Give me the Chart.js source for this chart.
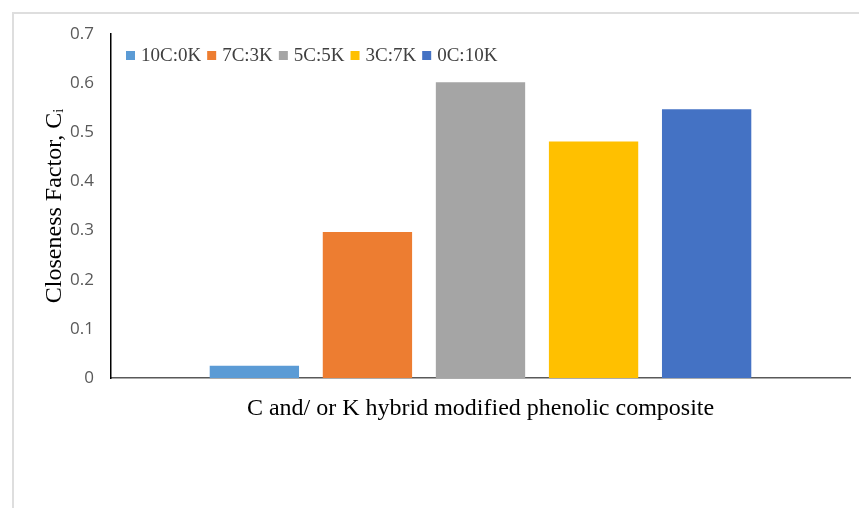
<!DOCTYPE html>
<html>
<head>
<meta charset="utf-8">
<script src="https://cdn.jsdelivr.net/npm/chart.js@4/dist/chart.umd.min.js"></script>
<style>
  body { margin: 0; background: #fff; }
  #wrap { position: relative; width: 859px; height: 508px; }
  #frame { position: absolute; left: 12px; top: 12px; right: 0; bottom: 0;
           border-top: 2px solid #dedede; border-left: 2px solid #dedede; }
  canvas { position: absolute; left: 0; top: 0; }
</style>
</head>
<body>
<div id="wrap">
  <div id="frame"></div>
  <canvas id="chart" width="859" height="508"></canvas>
</div>
<script>
const categories = [''];
const seriesNames = ['10C:0K', '7C:3K', '5C:5K', '3C:7K', '0C:10K'];
const seriesValues = [0.025, 0.297, 0.602, 0.481, 0.547];
const seriesColors = ['#5B9BD5', '#ED7D31', '#A5A5A5', '#FFC000', '#4472C4'];
const yTicks = [0, 0.1, 0.2, 0.3, 0.4, 0.5, 0.6, 0.7];

const datasets = seriesNames.map((name, i) => ({
  label: name,
  data: [seriesValues[i]],
  backgroundColor: seriesColors[i],
  borderWidth: 0,
  categoryPercentage: 0.765,
  barPercentage: 0.79
}));

// legend drawn inside the plot, one row from the top-left corner
const insideLegend = {
  id: 'insideLegend',
  afterDraw(chart) {
    const ctx = chart.ctx;
    const area = chart.chartArea;
    let x = area.left + 15;
    const cy = area.top + 21.5;
    ctx.save();
    ctx.font = '19px "Liberation Serif"';
    ctx.textBaseline = 'middle';
    chart.data.datasets.forEach(ds => {
      ctx.fillStyle = ds.backgroundColor;
      ctx.fillRect(x, cy - 4.5, 9, 9);
      ctx.fillStyle = '#404040';
      ctx.fillText(ds.label, x + 15, cy + 1);
      x += 15 + ctx.measureText(ds.label).width + 6;
    });
    ctx.restore();
  }
};

new Chart(document.getElementById('chart').getContext('2d'), {
  type: 'bar',
  data: { labels: categories, datasets: datasets },
  plugins: [insideLegend],
  options: {
    responsive: false,
    animation: false,
    layout: { padding: { left: 40, top: 34, right: 9, bottom: 85 } },
    plugins: {
      tooltip: { enabled: false },
      legend: { display: false }
    },
    scales: {
      x: {
        grid: { display: false, drawTicks: false },
        border: { color: '#595959', width: 1.5 },
        ticks: { display: false },
        afterFit: axis => { axis.height = 45; },
        title: {
          display: true,
          text: 'C and/ or K hybrid modified phenolic composite',
          color: '#000',
          font: { family: 'Liberation Serif', size: 24 },
          padding: { top: 16, bottom: 0 }
        }
      },
      y: {
        min: 0,
        max: 0.7,
        afterBuildTicks: axis => { axis.ticks = yTicks.map(v => ({ value: v })); },
        afterFit: axis => { axis.width = 71; },
        grid: { display: false, drawTicks: false },
        border: { color: '#000', width: 1.5 },
        ticks: {
          color: '#595959',
          padding: 17,
          font: { family: 'Open Sans', size: 17 },
          callback: v => v === 0 ? '0' : v.toFixed(1)
        },
        title: {
          display: true,
          text: 'Closeness Factor, C\u1D62',
          color: '#000',
          font: { family: 'Liberation Serif', size: 24 },
          padding: { top: 0, bottom: 0 }
        }
      }
    }
  }
});
</script>
</body>
</html>
